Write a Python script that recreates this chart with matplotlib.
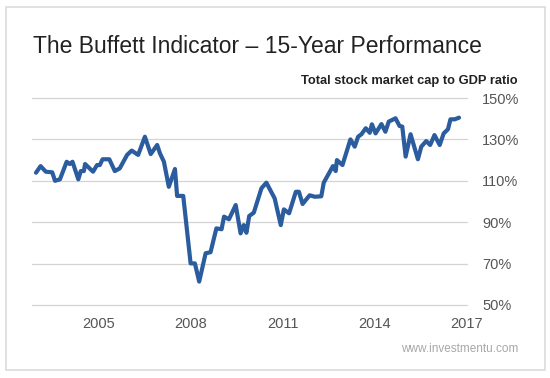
import matplotlib.pyplot as plt
from matplotlib.patches import Rectangle

# Buffett indicator
years = [2002.95, 2003.10, 2003.27, 2003.48, 2003.57, 2003.73, 2003.95, 2004.05,
         2004.14, 2004.33, 2004.41, 2004.51, 2004.55, 2004.81, 2004.94, 2005.03,
         2005.12, 2005.34, 2005.52, 2005.68, 2005.92, 2006.07, 2006.28, 2006.50,
         2006.69, 2006.90, 2006.99, 2007.12, 2007.28, 2007.48, 2007.55, 2007.75,
         2007.99, 2008.13, 2008.27, 2008.48, 2008.64, 2008.83, 2009.00, 2009.08,
         2009.24, 2009.46, 2009.62, 2009.72, 2009.81, 2009.90, 2010.05, 2010.30,
         2010.46, 2010.73, 2010.93, 2011.03, 2011.20, 2011.42, 2011.52, 2011.64,
         2011.87, 2012.04, 2012.25, 2012.33, 2012.63, 2012.72, 2012.76, 2012.94,
         2013.20, 2013.34, 2013.45, 2013.56, 2013.70, 2013.83, 2013.90, 2014.02,
         2014.21, 2014.34, 2014.45, 2014.67, 2014.80, 2014.89, 2015.00, 2015.16,
         2015.40, 2015.51, 2015.67, 2015.80, 2015.94, 2016.11, 2016.24, 2016.38,
         2016.46, 2016.60, 2016.74]
ratio = [113.9, 117.1, 114.4, 114.1, 110.0, 110.7, 119.2, 118.1,
         119.2, 110.7, 114.7, 114.7, 118.1, 114.4, 117.6, 117.6,
         120.4, 120.4, 114.7, 116.0, 122.5, 124.6, 122.5, 131.3,
         122.9, 127.3, 123.3, 119.2, 107.1, 115.7, 102.7, 102.7,
         70.1, 70.1, 61.3, 75.0, 75.5, 87.0, 86.6, 92.7,
         91.4, 98.3, 84.6, 88.6, 84.9, 93.0, 94.6, 106.4,
         109.1, 101.5, 88.6, 96.2, 94.3, 104.7, 104.7, 98.8,
         103.0, 102.3, 102.5, 109.1, 117.1, 114.7, 120.0, 117.6,
         130.0, 126.5, 131.3, 132.5, 135.4, 133.2, 137.3, 132.9,
         137.4, 133.7, 138.6, 140.2, 136.5, 136.2, 121.7, 132.5,
         120.4, 126.5, 129.2, 127.3, 132.1, 127.3, 132.9, 134.9,
         139.7, 139.7, 140.5]

xticks = [2005, 2008, 2011, 2014, 2017]
yticks = [50, 70, 90, 110, 130, 150]

plt.rcParams["font.family"] = ["Liberation Sans", "DejaVu Sans"]

W, H = 550, 378
fig = plt.figure(figsize=(W / 100, H / 100), dpi=100)
fig.patch.set_facecolor("white")

# card border
fig.patches.append(Rectangle((6 / W, 1 - 370 / H), 539 / W, 363 / H,
                             transform=fig.transFigure, fill=False,
                             edgecolor="#dcdcdc", linewidth=1.2))

ax = fig.add_axes([32 / W, 1 - 305 / H, 435 / W, 207 / H])
for y in yticks:
    ax.axhline(y, color="#d4d4d4", linewidth=0.9, clip_on=False, zorder=1)
ax.plot(years, ratio, color="#2b5c9e", linewidth=3, solid_joinstyle="round",
        solid_capstyle="round", zorder=3, clip_on=False)

ax.set_xlim(2002.82, 2017)
ax.set_ylim(50, 150)
ax.set_xticks(xticks)
ax.set_xticklabels([str(x) for x in xticks])
ax.set_yticks(yticks)
ax.set_yticklabels([f"{y}%" for y in yticks])
ax.yaxis.tick_right()
ax.tick_params(axis="y", length=0, pad=11, labelsize=10.5, labelcolor="#555555")
ax.tick_params(axis="x", length=0, pad=9, labelsize=10.5, labelcolor="#555555")
for lbl in ax.get_yticklabels():
    lbl.set_horizontalalignment("left")

for s in ax.spines.values():
    s.set_visible(False)

fig.text(33 / W, 1 - 53 / H, "The Buffett Indicator \u2013 15-Year Performance",
         fontsize=16.5, color="#222222", ha="left", va="baseline")
fig.text(518 / W, 1 - 84 / H, "Total stock market cap to GDP ratio",
         fontsize=9.3, fontweight="bold", color="#222222", ha="right", va="baseline")
fig.text(518 / W, 1 - 352 / H, "www.investmentu.com",
         fontsize=8.5, color="#a8a8a8", ha="right", va="baseline")

plt.savefig("out.png", dpi=100)
plt.close()
